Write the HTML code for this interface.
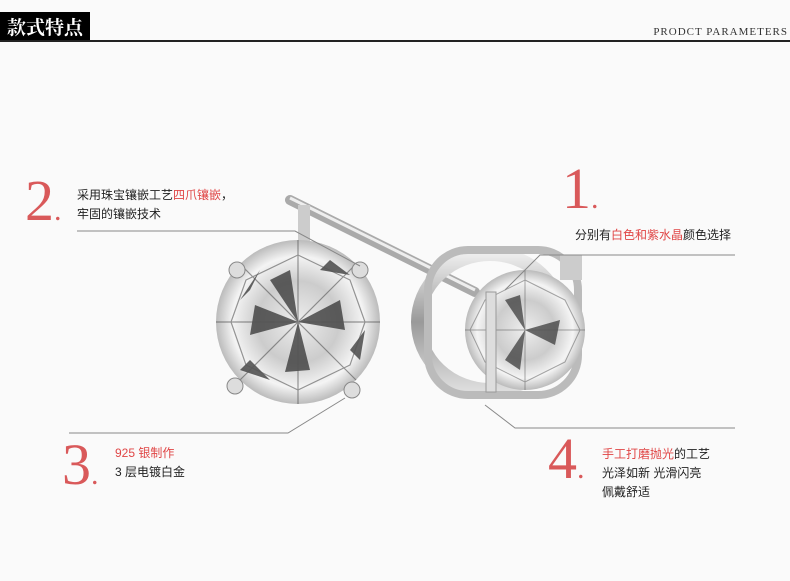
<!DOCTYPE html>
<html><head><meta charset="utf-8"><style>
body{margin:0;width:790px;height:581px;background:#fafafa;position:relative;overflow:hidden;font-family:"Liberation Sans","Noto Sans CJK SC",sans-serif}
.a{position:absolute}
.n{position:absolute;font-family:"Liberation Serif",serif;font-size:58px;color:#d9595a;line-height:1}
.t{position:absolute;font-size:12px;color:#222;line-height:19px}
.r{color:#e04646}
</style></head><body>
<div class="a" style="left:0;top:12px;width:90px;height:29px;background:#000;color:#fff;font:bold 19px 'Noto Serif CJK SC',serif;line-height:29px;text-align:center">款式特点</div>
<div class="a" style="left:0;top:40px;width:790px;height:2px;background:#222"></div>
<div class="a" style="right:2px;top:26px;font:11px 'Liberation Serif',serif;letter-spacing:1px;color:#333">PRODCT PARAMETERS</div>

<svg class="a" style="left:0;top:0" width="790" height="581">
<defs>
<radialGradient id="d" cx="50%" cy="50%" r="50%"><stop offset="0" stop-color="#eee"/><stop offset=".5" stop-color="#ccc"/><stop offset=".8" stop-color="#f4f4f4"/><stop offset="1" stop-color="#bbb"/></radialGradient>
<linearGradient id="m" x1="0" y1="0" x2="0" y2="1"><stop offset="0" stop-color="#eee"/><stop offset=".5" stop-color="#999"/><stop offset="1" stop-color="#ddd"/></linearGradient>
</defs>
<line x1="290" y1="200" x2="475" y2="292" stroke="#aaa" stroke-width="10" stroke-linecap="round"/>
<line x1="290" y1="198" x2="475" y2="290" stroke="#eee" stroke-width="3"/>
<rect x="298" y="205" width="12" height="60" fill="#ccc"/>
<circle cx="298" cy="322" r="82" fill="url(#d)"/>
<g fill="#333" opacity=".75">
<polygon points="298,322 270,280 290,270"/><polygon points="298,322 340,300 345,330"/><polygon points="298,322 310,370 285,372"/><polygon points="298,322 250,335 255,305"/>
<polygon points="260,270 240,300 250,290"/><polygon points="350,350 365,330 360,360"/><polygon points="250,360 270,380 240,370"/><polygon points="330,260 350,275 320,270"/>
</g>
<g stroke="#555" stroke-width="1.2" opacity=".6" fill="none">
<polygon points="298,255 350,280 365,322 350,365 298,390 246,365 231,322 246,280"/>
<path d="M298,240 L298,404 M216,322 L380,322 M240,264 L356,380 M356,264 L240,380"/>
</g>
<circle cx="237" cy="270" r="8" fill="#ddd" stroke="#888"/>
<circle cx="360" cy="270" r="8" fill="#ddd" stroke="#888"/>
<circle cx="235" cy="386" r="8" fill="#ddd" stroke="#888"/>
<circle cx="352" cy="390" r="8" fill="#ddd" stroke="#888"/>
<ellipse cx="490" cy="322" rx="72" ry="68" fill="none" stroke="url(#m)" stroke-width="14"/>
<rect x="428" y="250" width="150" height="145" rx="40" fill="none" stroke="#bbb" stroke-width="8"/>
<circle cx="525" cy="330" r="60" fill="url(#d)"/>
<g fill="#333" opacity=".7"><polygon points="525,330 505,300 520,295"/><polygon points="525,330 560,320 555,345"/><polygon points="525,330 520,370 505,360"/></g>
<g stroke="#555" opacity=".5" fill="none"><polygon points="525,280 565,300 580,330 565,362 525,382 485,362 470,330 485,300"/><path d="M525,270 L525,390 M465,330 L585,330"/></g>
<rect x="560" y="255" width="22" height="25" fill="#ccc"/><rect x="486" y="292" width="10" height="100" fill="#ddd" stroke="#999"/>
<g stroke="#888" stroke-width="1" fill="none">
<polyline points="77,231 295,231 360,266"/>
<polyline points="69,433 288,433 345,398"/>
<polyline points="735,255 540,255 505,290"/>
<polyline points="735,428 515,428 485,405"/>
</g>
</svg>

<div class="n" style="left:25px;top:172px">2<span style="font-size:30px">.</span></div>
<div class="t" style="left:77px;top:186px">采用珠宝镶嵌工艺<span class="r">四爪镶嵌</span>，<br>牢固的镶嵌技术</div>
<div class="n" style="left:562px;top:160px">1<span style="font-size:30px">.</span></div>
<div class="t" style="left:575px;top:226px">分别有<span class="r">白色和紫水晶</span>颜色选择</div>
<div class="n" style="left:62px;top:436px">3<span style="font-size:30px">.</span></div>
<div class="t" style="left:115px;top:444px"><span class="r">925 银制作</span><br>3 层电镀白金</div>
<div class="n" style="left:548px;top:430px">4<span style="font-size:30px">.</span></div>
<div class="t" style="left:602px;top:445px"><span class="r">手工打磨抛光</span>的工艺<br>光泽如新 光滑闪亮<br>佩戴舒适</div>
</body></html>
